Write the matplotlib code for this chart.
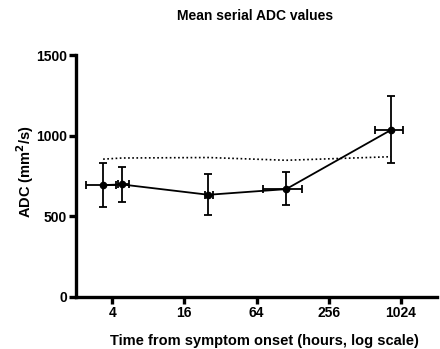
import matplotlib
matplotlib.use("Agg")
import matplotlib.pyplot as plt
import numpy as np

plt.rcParams['font.family'] = ['Liberation Sans', 'DejaVu Sans']

# Data (hours, ADC)
time_h = [3.36, 4.82, 25.4, 113, 843]
adc = [694, 698, 634, 669, 1035]
adc_hi = [830, 806, 762, 773, 1245]
adc_lo = [560, 589, 508, 568, 829]
time_lo = [2.42, 4.45, 23.6, 72.5, 621]
time_hi = [4.32, 5.55, 27.9, 154, 1060]
ref_adc = [855, 862, 865, 848, 870]

xticks = [4, 16, 64, 256, 1024]

fig = plt.figure(figsize=(4.4, 3.49), dpi=100)
ax = fig.add_axes([0.173, 0.149, 0.820, 0.693])

t = np.array(time_h)
a = np.array(adc)
yerr = [a - np.array(adc_lo), np.array(adc_hi) - a]
xerr = [t - np.array(time_lo), np.array(time_hi) - t]

ax.plot(time_h, ref_adc, linestyle=(0, (1, 1.5)), color='black', lw=1.2)
ax.errorbar(time_h, adc, yerr=yerr, xerr=xerr, fmt='-o', color='black',
            ms=4.5, lw=1.3, elinewidth=1.3, capsize=3, capthick=1.3)

ax.set_xscale('log', base=2)
ax.set_xlim(2, 2048)
ax.set_ylim(0, 1500)
ax.set_xticks(xticks)
ax.set_xticklabels([str(v) for v in xticks])
ax.minorticks_off()
ax.set_yticks([0, 500, 1000, 1500])

for s in ['top', 'right']:
    ax.spines[s].set_visible(False)
for s in ['left', 'bottom']:
    ax.spines[s].set_linewidth(2.4)
ax.tick_params(width=2.4, length=5, labelsize=10, pad=1.5)
for lab in ax.get_xticklabels() + ax.get_yticklabels():
    lab.set_fontweight('bold')

ax.set_xlabel('Time from symptom onset (hours, log scale)', fontsize=10.5, fontweight='bold')
ax.xaxis.set_label_coords(0.521, -0.153)
ax.set_ylabel('ADC (mm$^\\mathbf{2}$/s)', fontsize=10.5, fontweight='bold')
ax.yaxis.set_label_coords(-0.111, 0.517)
fig.text(0.58, 0.955, 'Mean serial ADC values', ha='center', va='center', fontsize=10, fontweight='bold')

fig.savefig('out.png', dpi=100)
